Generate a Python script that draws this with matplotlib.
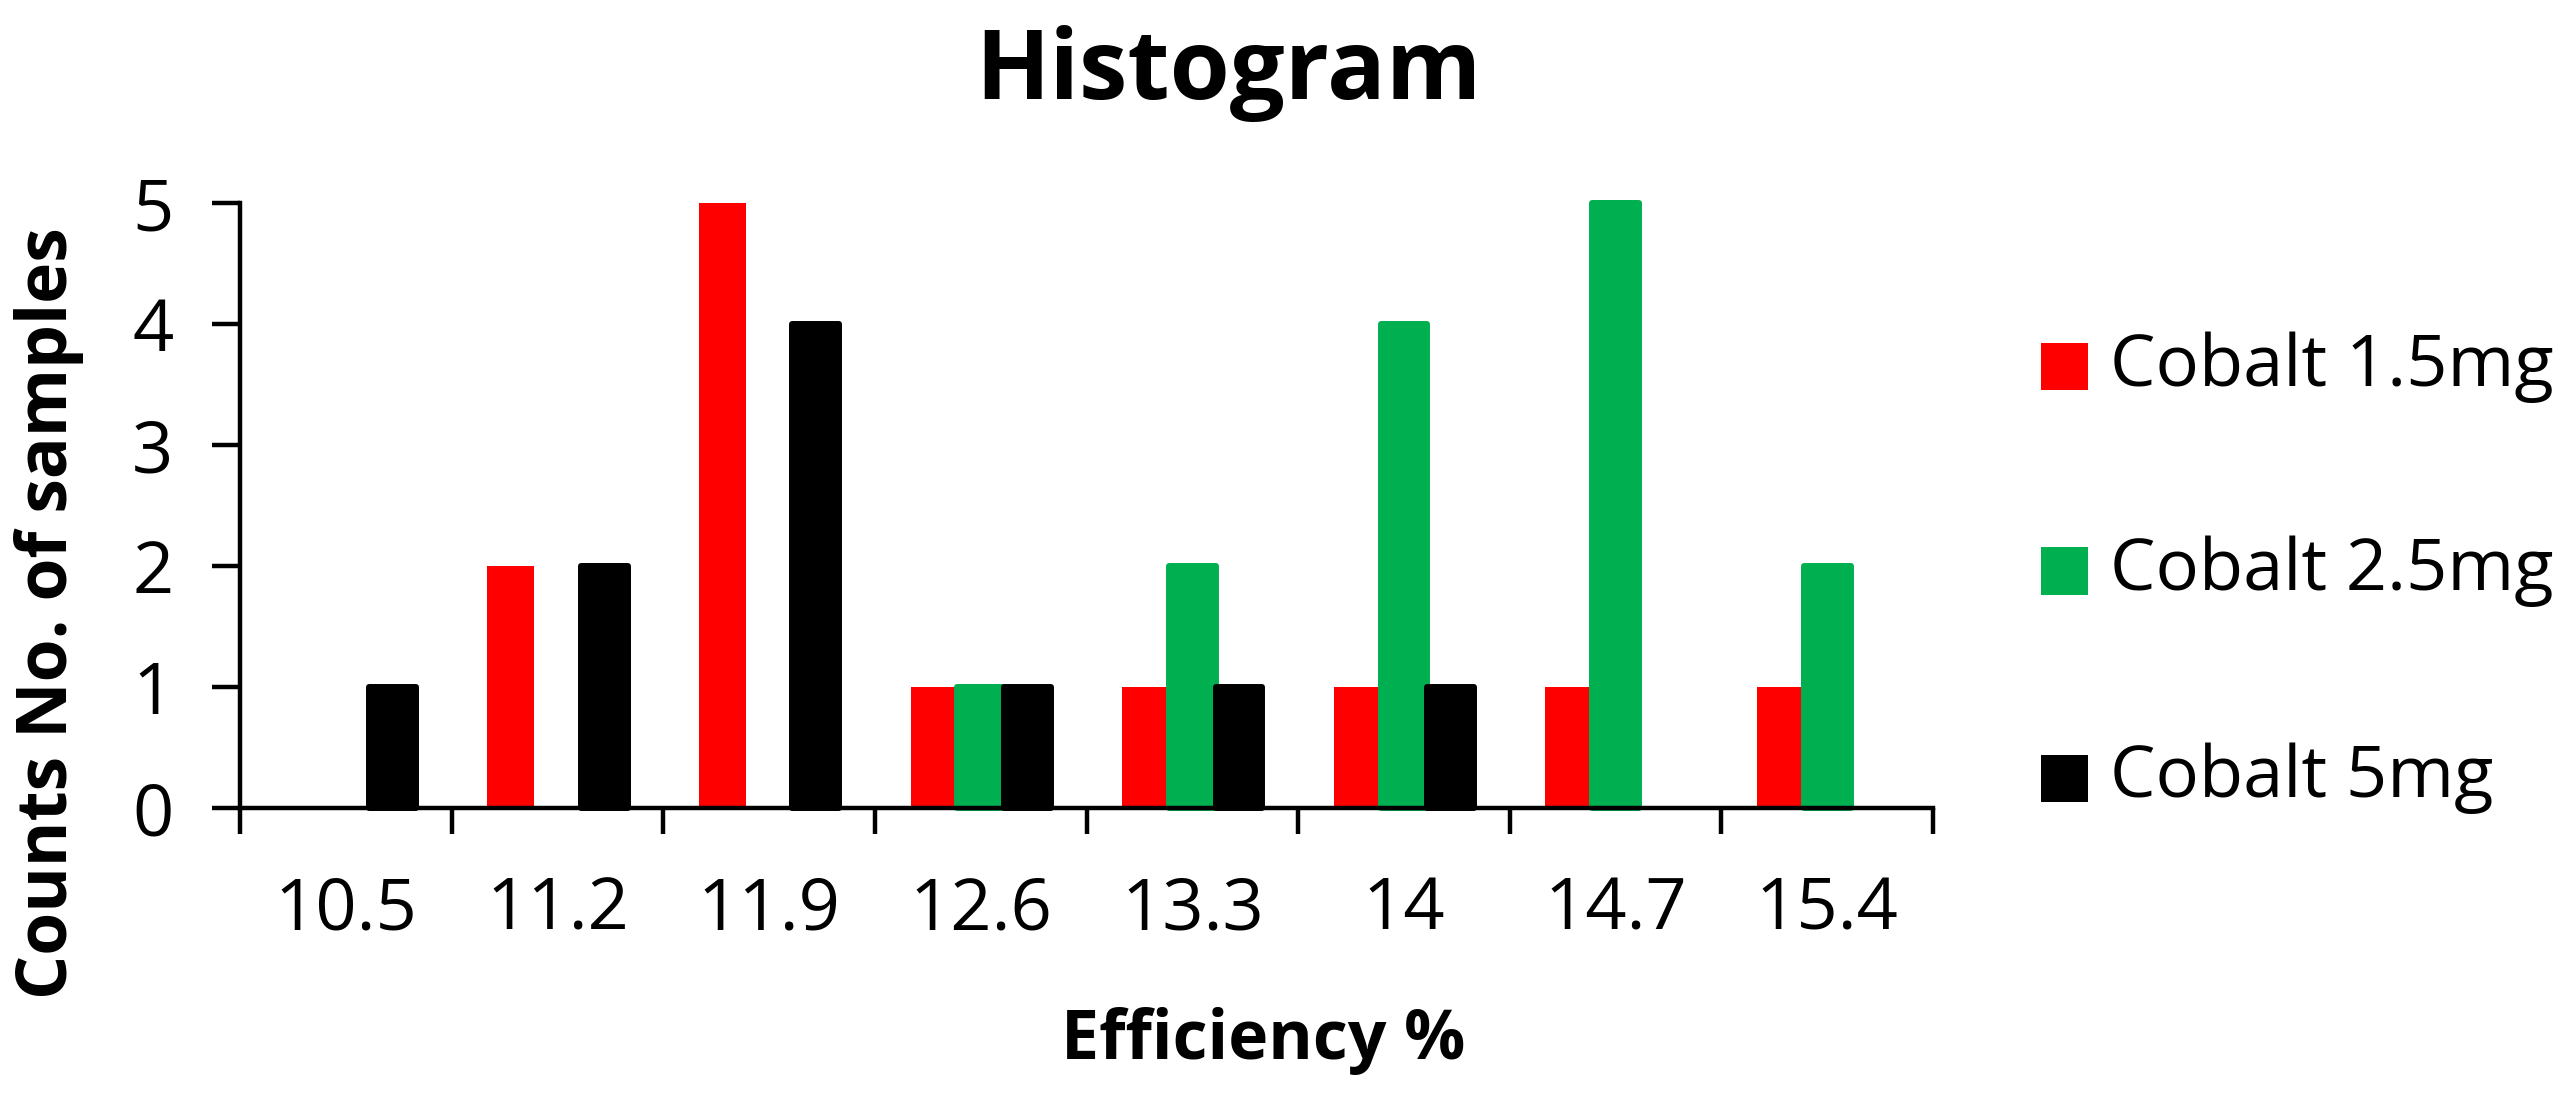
import matplotlib
matplotlib.use("Agg")
import matplotlib.pyplot as plt
from matplotlib.patches import Rectangle
import numpy as np

categories = ["10.5", "11.2", "11.9", "12.6", "13.3", "14", "14.7", "15.4"]
series_names = ["Cobalt 1.5mg", "Cobalt 2.5mg", "Cobalt 5mg"]
cobalt_15 = [0, 2, 5, 1, 1, 1, 1, 1]
cobalt_25 = [0, 0, 0, 1, 2, 4, 5, 2]
cobalt_5 = [1, 2, 4, 1, 1, 1, 0, 0]
y_ticks = [0, 1, 2, 3, 4, 5]

colors = ["#FF0000", "#00B050", "#000000"]
edge_lw = [0, 4.3, 4.3]

plt.rcParams['font.family'] = ['Open Sans', 'DejaVu Sans']

W, H = 2571, 1102
fig = plt.figure(figsize=(W / 100, H / 100), dpi=100)
ax = fig.add_axes([240 / W, 1 - 808 / H, (1933 - 240) / W, (808 - 203) / H])

x = np.arange(len(categories))
bw = 0.221
for k, (vals, c, lw) in enumerate(zip([cobalt_15, cobalt_25, cobalt_5], colors, edge_lw)):
    lws = [lw if v > 0 else 0 for v in vals]
    ax.bar(x + (k - 1) * bw, vals, width=bw, color=c,
           edgecolor=c, linewidth=lws,
           joinstyle='round', clip_on=False, zorder=2 + k)

ax.set_xlim(-0.5, len(categories) - 0.5)
ax.set_ylim(0, 5)
for s in ['top', 'right']:
    ax.spines[s].set_visible(False)
for s in ['left', 'bottom']:
    ax.spines[s].set_linewidth(3.2)
    ax.spines[s].set_zorder(10)

ax.set_yticks(y_ticks)
ax.set_yticklabels([str(v) for v in y_ticks], fontsize=52)
ax.tick_params(axis='y', length=20, width=3.2, pad=28)

ax.set_xticks(np.arange(-0.5, len(categories), 1.0))
ax.set_xticklabels([])
ax.tick_params(axis='x', which='major', length=19, width=3.2)
ax.set_xticks(x, minor=True)
ax.set_xticklabels(categories, minor=True, fontsize=52)
ax.tick_params(axis='x', which='minor', length=0, pad=48)

fig.text(1228 / W, 1 - 74 / H, "Histogram", ha='center', va='center',
         fontsize=70, fontweight='bold')
fig.text(1263 / W, 1 - 1041 / H, "Efficiency %", ha='center', va='center',
         fontsize=49, fontweight='bold')
fig.text(49 / W, 1 - 613 / H, "Counts No. of samples", ha='center', va='center',
         rotation=90, fontsize=50, fontweight='bold')

# legend
leg_y = [367, 571, 778]
sq = 47
for name, c, yy in zip(series_names, colors, leg_y):
    fig.patches.append(Rectangle((2041 / W, 1 - (yy + sq / 2) / H), sq / W, sq / H,
                                 transform=fig.transFigure, facecolor=c,
                                 edgecolor='none', figure=fig))
    fig.text(2110 / W, 1 - yy / H, name, ha='left', va='center', fontsize=52)

fig.savefig("out.png", dpi=100, facecolor='white')
